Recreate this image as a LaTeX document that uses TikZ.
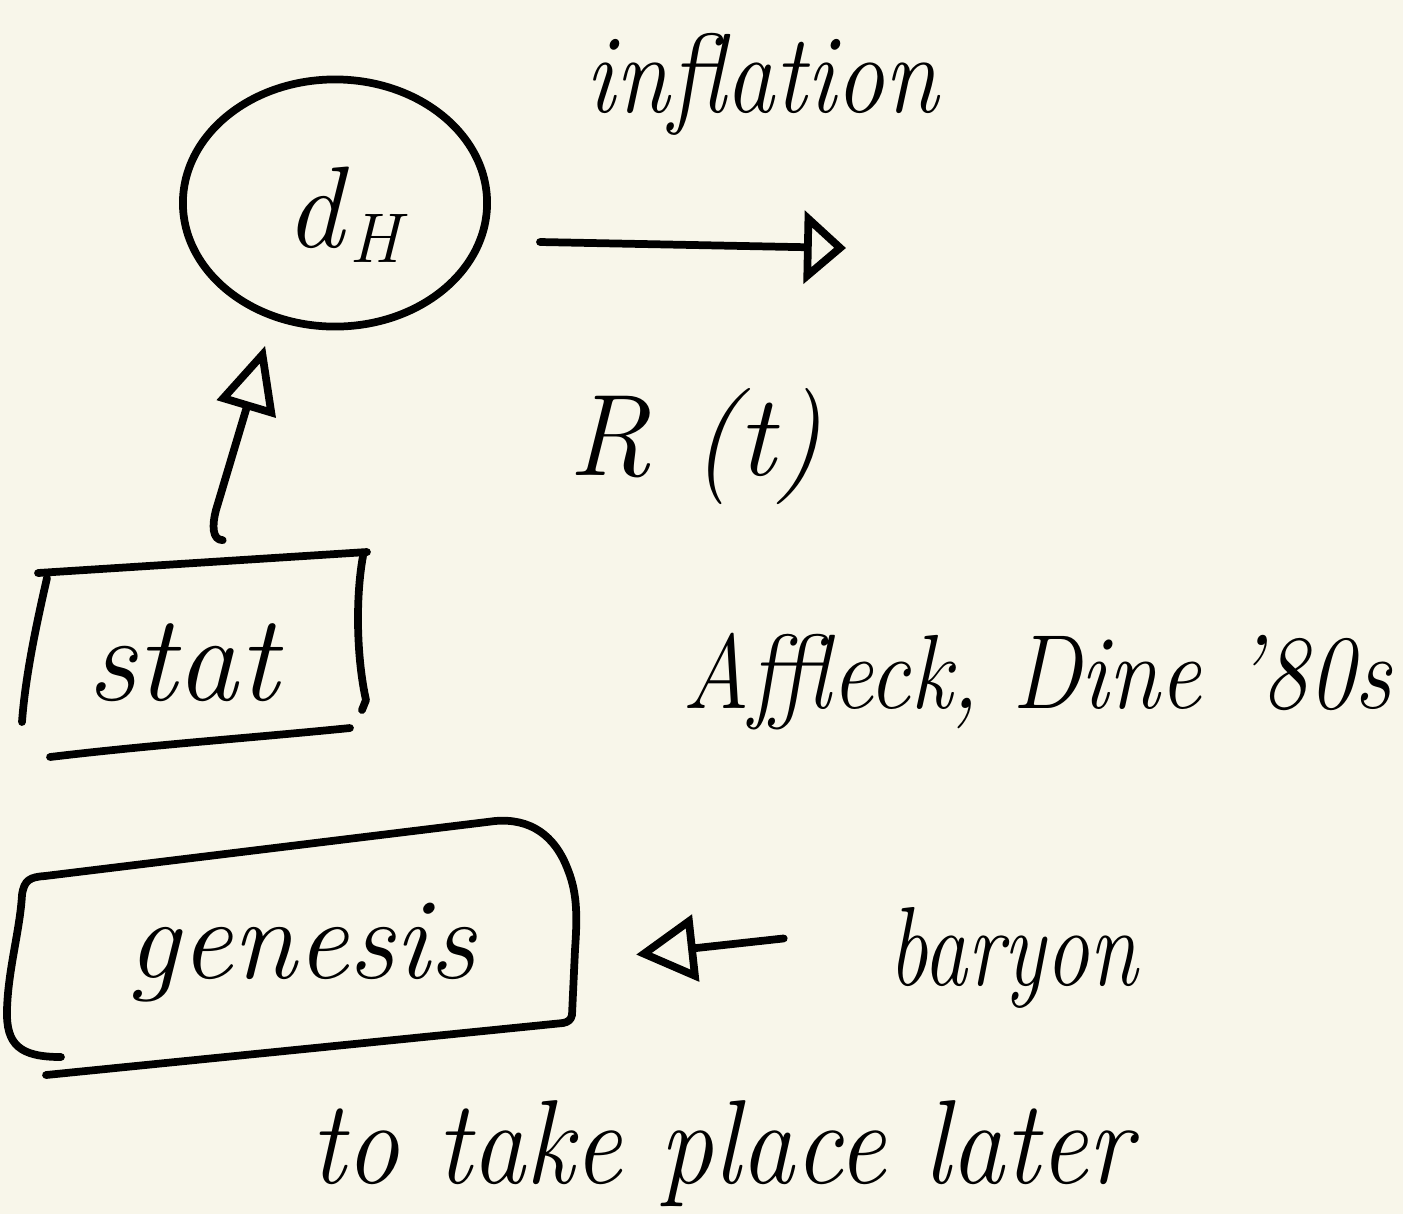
\documentclass[tikz,border=0pt]{standalone}
\usepackage{fontspec}
\usetikzlibrary{arrows.meta,shapes.geometric}
\definecolor{paper}{RGB}{248,246,234}
\begin{document}
\begin{tikzpicture}[x=0.01cm,y=-0.01cm,
  ink/.style={line width=2.2pt, line cap=round, line join=round, draw=black},
  hand/.style={anchor=base, inner sep=0pt, text=black},
  uptip/.style={-{Triangle[open,length=0.66cm,width=0.6cm]}},
  righttip/.style={-{Triangle[open,length=0.42cm,width=0.72cm]}},
  lefttip/.style={-{Triangle[open,length=0.6cm,width=0.66cm]}},
  anchorbox/.style={rectangle, inner sep=0pt, outer sep=0pt}
]
\fill[paper] (0,0) rectangle (1403,1214);
\useasboundingbox (0,0) rectangle (1403,1214);

% circle with d_H
\node[ellipse, ink, minimum width=3.04cm, minimum height=2.47cm, inner sep=0pt] (circ) at (335,203) {};
\node[hand, font=\itshape\fontsize{33}{40}\selectfont] (dH) at (343,247)
  {d\kern0.05em\raisebox{-0.15cm}{\fontsize{20}{24}\selectfont H}};

% inflation label and arrow
\node[hand, font=\itshape\fontsize{32}{38}\selectfont] (infl) at (762,112) {\scalebox{0.87}[1]{inflation}};
\coordinate (rtip) at (846,248);
\draw[ink, righttip] ([shift={(49,39)}]circ.east) -- (rtip);

% R(t)
\node[hand, font=\itshape\fontsize{33}{40}\selectfont] (Rt) at (695,475) {R (t)};

% stat box
\node[anchorbox, minimum width=3.4cm, minimum height=1.8cm, rotate=4] (statbox) at (192,653) {};
\draw[ink] (38,573) -- (367,552);
\draw[ink] (47,578) .. controls (35,630) and (25,680) .. (22,722);
\draw[ink] (363,556) .. controls (355,600) and (357,660) .. (366,700) -- (362,710);
\draw[ink] (50,757) .. controls (150,745) and (250,738) .. (350,728);
\node[hand, font=\itshape\fontsize{35}{42}\selectfont] (stat) at (183,700) {stat};

% arrow stat -> circle
\draw[ink, uptip, shorten >=0.27cm] ([shift={(37,-23)}]statbox.north)
  .. controls (212,540) and (212,525) .. (216,510) -- (circ.242);

% Affleck, Dine
\node[hand, font=\itshape\fontsize{30}{36}\selectfont] (ad) at (1037,708) {\scalebox{0.88}[1]{Affleck, Dine '80s}};

% genesis box
\node[anchorbox, minimum width=5.6cm, minimum height=2.1cm, rotate=5] (genbox) at (292,950) {};
\draw[ink] (61,1057) .. controls (20,1057) and (6,1045) .. (7,1010)
  .. controls (8,970) and (20,930) .. (22,895)
  .. controls (24,880) and (30,877) .. (45,876) -- (495,821)
  .. controls (530,818) and (555,835) .. (568,870)
  .. controls (578,895) and (577,920) .. (575,950) -- (572,1015)
  .. controls (571,1020) and (568,1022) .. (563,1023);
\draw[ink] (46,1075) -- (563,1023);
\node[hand, font=\itshape\fontsize{33}{40}\selectfont] (genesis) at (302,978) {genesis};

% baryon and arrow
\node[hand, font=\itshape\fontsize{32}{38}\selectfont] (baryon) at (1013,985) {\scalebox{0.78}[1]{baryon}};
\draw[ink, lefttip] ([shift={(-104,-19)}]baryon.west) -- ([shift={(65,29)}]genbox.east);

% bottom line
\node[hand, font=\itshape\fontsize{34}{40}\selectfont] (later) at (721,1183) {\scalebox{0.9}[1]{to take place later}};
\end{tikzpicture}
\end{document}
